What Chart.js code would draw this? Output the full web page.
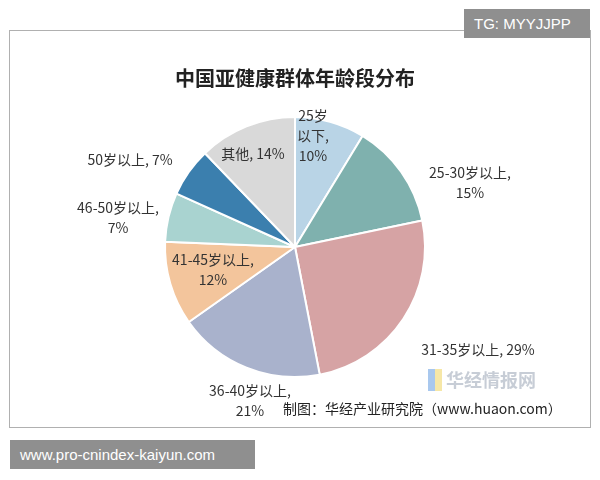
<!DOCTYPE html>
<html><head><meta charset="utf-8">
<script src="https://cdn.jsdelivr.net/npm/chart.js@4"></script>
<style>
body { margin: 0; background: #fff; font-family: "Noto Sans CJK SC", sans-serif; }
#wrap { position: relative; width: 600px; height: 480px; }
#frame { position: absolute; left: 9px; top: 30px; width: 580px; height: 396px; border: 1px solid #b0b0b0; }
canvas { position: absolute; left: 0; top: 0; }
.tag { position: absolute; background: #8f8f8f; color: #fff; font: 15px "Liberation Sans", sans-serif; padding: 6px 10px; }
#credit { position: absolute; left: 283px; top: 398px; font-size: 14px; color: #222; }
#logo { position: absolute; left: 428px; top: 366px; font-size: 18px; font-weight: bold; color: #c7cdd6; }
#logo i { display: inline-block; width: 14px; height: 22px; background: linear-gradient(90deg,#a9c8ee 50%,#f6e7a7 50%); vertical-align: -4px; margin-right: 4px; }
</style></head>
<body><div id="wrap">
<div id="frame"></div>
<canvas id="c" width="600" height="480"></canvas>
<div class="tag" style="left:464px;top:9px;width:106px;">TG: MYYJJPP</div>
<div class="tag" style="left:10px;top:440px;width:225px;">www.pro-cnindex-kaiyun.com</div>
<div id="logo"><i></i>华经情报网</div>
<div id="credit">制图：华经产业研究院（www.huaon.com）</div>
</div>
<script>
const categories = ["25岁以下", "25-30岁以上", "31-35岁以上", "36-40岁以上", "41-45岁以上", "46-50岁以上", "50岁以上", "其他"]
const shares = [10, 15, 29, 21, 12, 7, 7, 14]
const colors = ["#b9d4e6", "#7fb1ae", "#d6a3a4", "#a9b2cc", "#f3c59c", "#a9d3d0", "#3b7fae", "#d9d9d9"]
// label lines and their offset from the pie centre
const labelLines = [
  ["25岁", "以下,", "10%"], ["25-30岁以上,", "15%"], ["31-35岁以上, 29%"], ["36-40岁以上,", "21%"],
  ["41-45岁以上,", "12%"], ["46-50岁以上,", "7%"], ["50岁以上, 7%"], ["其他, 14%"]
]
const labelPos = [[18, -111], [175, -64], [183, 103], [-45, 154], [-82, 23], [-177, -29], [-165, -87], [-42, -93]]

const pieLabels = {
  id: "pieLabels",
  afterDatasetsDraw(chart) {
    const arc = chart.getDatasetMeta(0).data[0]
    const ctx = chart.ctx
    ctx.save()
    ctx.font = "14px 'Noto Sans CJK SC', sans-serif"
    ctx.fillStyle = "#333"
    ctx.textAlign = "center"
    ctx.textBaseline = "middle"
    labelLines.forEach((lines, i) => {
      const [dx, dy] = labelPos[i]
      const y0 = arc.y + dy - (lines.length - 1) * 10
      lines.forEach((t, j) => ctx.fillText(t, arc.x + dx, y0 + j * 20))
    })
    ctx.restore()
  }
}

new Chart(document.getElementById("c"), {
  type: "pie",
  data: { labels: categories, datasets: [{ data: shares, backgroundColor: colors, borderColor: "#fff", borderWidth: 2 }] },
  options: {
    responsive: false,
    animation: false,
    layout: { padding: { top: 116, bottom: 102, left: 164, right: 174 } },
    plugins: {
      legend: { display: false },
      tooltip: { enabled: false },
      title: {
        display: true, text: "中国亚健康群体年龄段分布", color: "#222",
        font: { size: 20, weight: "bold", family: "'Noto Sans CJK SC', sans-serif" },
        padding: { top: -50, bottom: 0 }
      }
    }
  },
  plugins: [pieLabels]
})
</script>
</body></html>
